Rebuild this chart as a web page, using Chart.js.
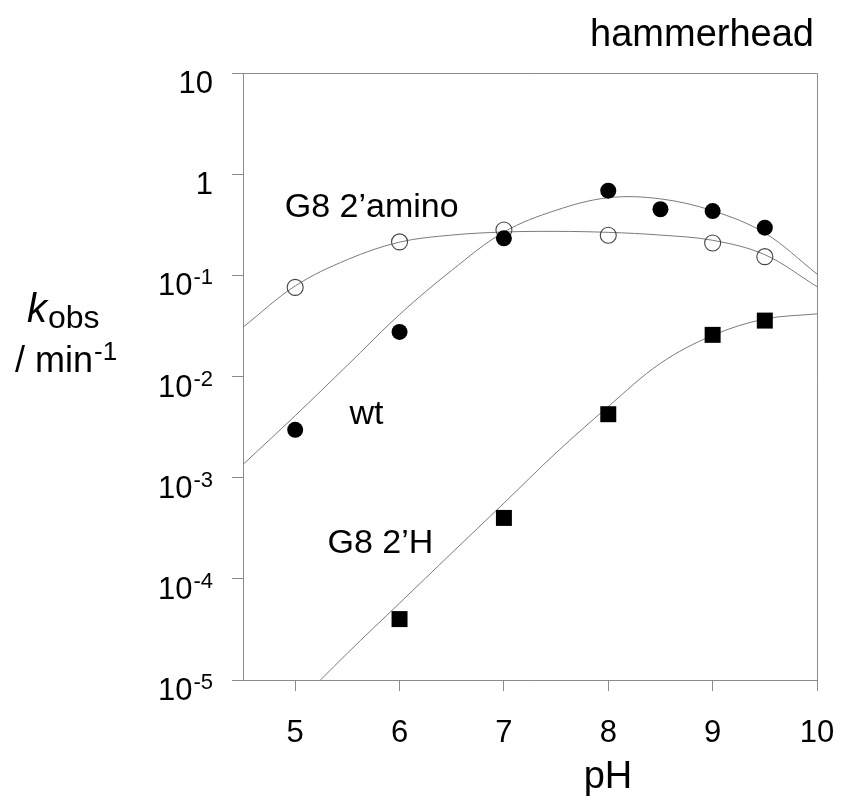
<!DOCTYPE html>
<html>
<head>
<meta charset="utf-8">
<script src="https://cdn.jsdelivr.net/npm/chart.js"></script>
<style>
  body { margin: 0; background: #fff; }
  canvas { display: block; }
</style>
</head>
<body>
<canvas id="chart" width="853" height="800"></canvas>
<script>
// tick values / labels
const phTicks = [5, 6, 7, 8, 9, 10]
const kTicks = [1e-5, 1e-4, 1e-3, 1e-2, 1e-1, 1, 10]
const kTickBase = ['10', '10', '10', '10', '10', '1', '10']
const kTickExp = ['-5', '-4', '-3', '-2', '-1', '', '']

// measured points
const aminoPH = [5, 6, 7, 8, 9, 9.5]
const aminoK = [0.076, 0.214, 0.281, 0.249, 0.209, 0.153]
const wtPH = [5, 6, 7, 8, 8.5, 9, 9.5]
const wtK = [0.00297, 0.0276, 0.232, 0.687, 0.45, 0.432, 0.296]
const dhPH = [6, 7, 8, 9, 9.5]
const dhK = [4.0e-5, 4.0e-4, 0.00424, 0.0258, 0.0357]

// fitted curves, every 0.5 pH unit
const fitPH = [4.5, 5, 5.5, 6, 6.5, 7, 7.5, 8, 8.5, 9, 9.5, 10]
const aminoFitK = [0.0307, 0.0785, 0.143, 0.213, 0.25, 0.268, 0.272, 0.266, 0.25, 0.222, 0.16, 0.0773]
const wtFitK = [0.00135, 0.0041, 0.0129, 0.041, 0.112, 0.268, 0.44, 0.585, 0.57, 0.435, 0.262, 0.103]
const dhFitPH = [5, 5.5, 6, 6.5, 7, 7.5, 8, 8.5, 9, 9.5, 10]
const dhFitK = [5.6e-6, 1.84e-5, 5.75e-5, 1.8e-4, 5.6e-4, 1.76e-3, 5.05e-3, 0.0135, 0.0255, 0.037, 0.0416]

// curve labels (data coordinates of the text's left baseline)
const curveLabels = [
  { text: 'G8 2\u2019amino', ph: 4.9, k: 0.377 },
  { text: 'wt', ph: 5.52, k: 0.0034 },
  { text: 'G8 2\u2019H', ph: 5.31, k: 1.81e-4 }
]

const FONT = '"Liberation Sans", Arial, sans-serif'
const AXIS = '#8a8a8a'
const CURVE = '#7a7a7a'

const pts = (xs, ys) => xs.map((x, i) => ({ x: x, y: ys[i] }))

const fitStyle = {
  showLine: true,
  pointRadius: 0,
  borderColor: CURVE,
  borderWidth: 1,
  tension: 0.35,
  fill: false
}

const framePlugin = {
  id: 'frame',
  beforeDatasetsDraw(chart) {
    const { ctx, chartArea: a } = chart
    ctx.save()
    ctx.strokeStyle = AXIS
    ctx.lineWidth = 1
    ctx.beginPath()
    ctx.moveTo(a.left, a.top + 0.5)
    ctx.lineTo(a.right + 0.5, a.top + 0.5)
    ctx.lineTo(a.right + 0.5, a.bottom)
    ctx.stroke()
    ctx.restore()
  }
}

const textPlugin = {
  id: 'texts',
  afterDraw(chart) {
    const { ctx } = chart
    const xs = chart.scales.x
    const ys = chart.scales.y
    ctx.save()
    ctx.fillStyle = '#000'
    ctx.textBaseline = 'alphabetic'

    // y tick labels with superscript exponents
    kTicks.forEach((v, i) => {
      const y = ys.getPixelForValue(v)
      let right = 213
      if (kTickExp[i]) {
        ctx.font = '22px ' + FONT
        const w = ctx.measureText(kTickExp[i]).width
        ctx.textAlign = 'left'
        ctx.fillText(kTickExp[i], right - w, y + 9)
        right -= w + 1
      }
      ctx.font = '31px ' + FONT
      ctx.textAlign = 'right'
      ctx.fillText(kTickBase[i], right, y + 20)
    })

    // x tick labels
    ctx.font = '31px ' + FONT
    ctx.textAlign = 'center'
    phTicks.forEach(v => {
      ctx.fillText(String(v), xs.getPixelForValue(v), 742)
    })

    // x title
    ctx.font = '38px ' + FONT
    ctx.fillText('pH', 608, 788)

    // y title: k_obs / min-1
    ctx.textAlign = 'left'
    ctx.font = 'italic 40px ' + FONT
    ctx.fillText('k', 27, 322)
    const kw = ctx.measureText('k').width
    ctx.font = '32px ' + FONT
    ctx.fillText('obs', 27 + kw + 1, 328)
    ctx.font = '36px ' + FONT
    ctx.fillText('/ min', 15, 372)
    const mw = ctx.measureText('/ min').width
    ctx.font = '26px ' + FONT
    ctx.fillText('-1', 15 + mw + 1, 360)

    // curve labels
    ctx.font = '34px ' + FONT
    curveLabels.forEach(l => {
      ctx.fillText(l.text, xs.getPixelForValue(l.ph), ys.getPixelForValue(l.k))
    })

    // title
    ctx.textAlign = 'right'
    ctx.font = '38px ' + FONT
    ctx.fillText('hammerhead', 814, 46)
    ctx.restore()
  }
}

new Chart(document.getElementById('chart'), {
  type: 'scatter',
  data: {
    datasets: [
      {
        label: 'G8 2\u2019H',
        data: pts(dhPH, dhK),
        pointStyle: 'rect',
        pointRadius: 11.3,
        backgroundColor: '#000',
        borderColor: '#000',
        borderWidth: 0
      },
      {
        label: 'wt',
        data: pts(wtPH, wtK),
        pointStyle: 'circle',
        pointRadius: 8,
        backgroundColor: '#000',
        borderColor: '#000',
        borderWidth: 0
      },
      {
        label: 'G8 2\u2019amino',
        data: pts(aminoPH, aminoK),
        pointStyle: 'circle',
        pointRadius: 8,
        backgroundColor: 'rgba(0,0,0,0)',
        borderColor: '#444',
        borderWidth: 1.1
      },
      Object.assign({ label: 'amino fit', data: pts(fitPH, aminoFitK) }, fitStyle),
      Object.assign({ label: 'wt fit', data: pts(fitPH, wtFitK) }, fitStyle),
      Object.assign({ label: '2H fit', data: pts(dhFitPH, dhFitK) }, fitStyle)
    ]
  },
  options: {
    responsive: false,
    animation: false,
    layout: { padding: { left: 232, right: 36, top: 73, bottom: 109 } },
    plugins: {
      legend: { display: false },
      tooltip: { enabled: false }
    },
    scales: {
      x: {
        type: 'linear',
        min: 4.5,
        max: 10,
        afterBuildTicks: s => { s.ticks = phTicks.map(v => ({ value: v })) },
        ticks: { display: false },
        grid: { drawOnChartArea: false, drawTicks: true, tickLength: 11, color: AXIS, lineWidth: 1 },
        border: { color: AXIS, width: 1 }
      },
      y: {
        type: 'logarithmic',
        min: 1e-5,
        max: 10,
        afterBuildTicks: s => { s.ticks = kTicks.map(v => ({ value: v })) },
        ticks: { display: false },
        grid: { drawOnChartArea: false, drawTicks: true, tickLength: 11, color: AXIS, lineWidth: 1 },
        border: { color: AXIS, width: 1 }
      }
    }
  },
  plugins: [framePlugin, textPlugin]
})
</script>
</body>
</html>
